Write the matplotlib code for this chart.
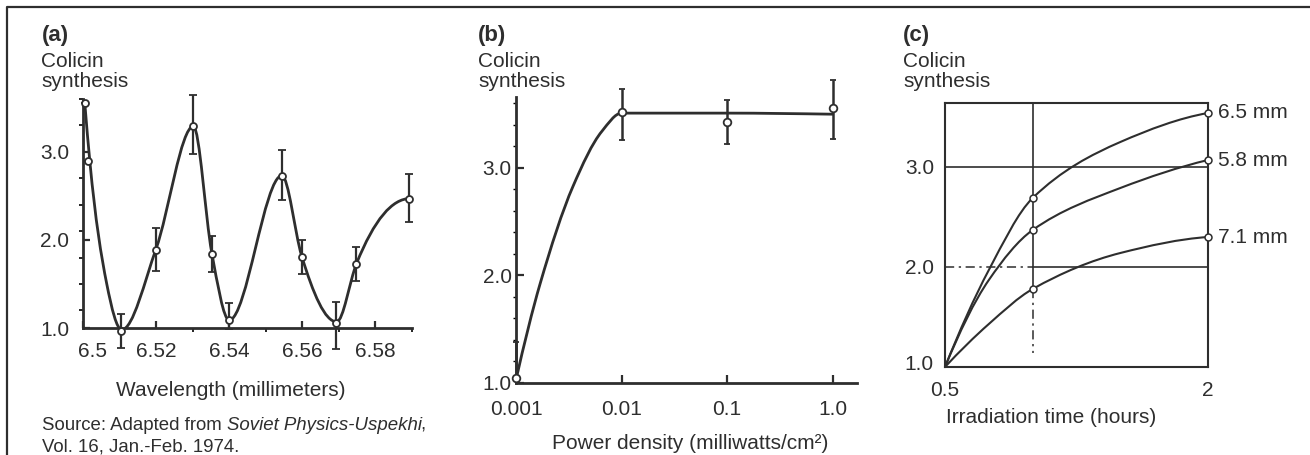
import numpy as np
import matplotlib
matplotlib.use("Agg")
import matplotlib.pyplot as plt
from matplotlib.path import Path
from matplotlib.patches import PathPatch
from matplotlib.lines import Line2D
from matplotlib.ticker import FixedLocator, FixedFormatter, NullFormatter
from matplotlib.transforms import ScaledTranslation

plt.rcParams['font.family'] = ['Liberation Sans', 'DejaVu Sans']

INK = '#2e2e2e'
FS = 15

# ---------------- (a) colicin synthesis vs wavelength ----------------
a_wavelength = [6.5005, 6.5015, 6.5105, 6.5200, 6.5300, 6.5352, 6.5400,
                6.5544, 6.5598, 6.5692, 6.5748, 6.5892]
a_synthesis = [3.55, 2.90, 0.97, 1.88, 3.29, 1.84, 1.09,
               2.73, 1.81, 1.06, 1.73, 2.47]
a_err_low = [0.00, 0.00, 0.20, 0.23, 0.32, 0.20, 0.10,
             0.28, 0.20, 0.30, 0.20, 0.27]
a_err_high = [0.00, 0.00, 0.19, 0.25, 0.36, 0.20, 0.19,
              0.29, 0.19, 0.24, 0.19, 0.28]
# fitted curve: turning points and crossings of the measured response
a_curve_x = [6.5005, 6.5019, 6.5065, 6.5106, 6.5200, 6.5302, 6.5352, 6.5400,
             6.5544, 6.5598, 6.5694, 6.5748, 6.5895]
a_curve_y = [3.55, 2.88, 1.50, 0.98, 1.90, 3.29, 1.86, 1.09,
             2.73, 1.82, 1.07, 1.73, 2.47]
a_ticks = [6.50, 6.52, 6.54, 6.56, 6.58]
a_ticklabels = ['6.5', '6.52', '6.54', '6.56', '6.58']
a_yticks = [1.0, 2.0, 3.0]

# ---------------- (b) colicin synthesis vs power density ----------------
b_power = [0.001, 0.01, 0.1, 1.0]
b_synthesis = [1.05, 3.52, 3.43, 3.56]
b_err_low = [0.00, 0.26, 0.21, 0.29]
b_err_high = [0.33, 0.21, 0.20, 0.26]
b_curve_x = [0.001, 0.0017, 0.00347, 0.0065, 0.01, 0.1, 1.0]
b_curve_y = [1.03, 1.93, 2.83, 3.34, 3.51, 3.51, 3.50]
b_ticks = [0.001, 0.01, 0.1, 1.0]
b_ticklabels = ['0.001', '0.01', '0.1', '1.0']
b_yticks = [1.0, 2.0, 3.0]

# ---------------- (c) colicin synthesis vs irradiation time ----------------
c_marker_time = [1.0, 2.0]
c_65_marks = [2.69, 3.54]
c_58_marks = [2.37, 3.07]
c_71_marks = [1.78, 2.30]
c_curve_time = [0.5, 0.75, 1.0, 1.5, 2.0]
c_65_curve = [1.0, 1.97, 2.69, 3.25, 3.54]
c_58_curve = [1.0, 1.87, 2.37, 2.79, 3.07]
c_71_curve = [1.0, 1.43, 1.78, 2.14, 2.30]
c_series_labels = ['6.5 mm', '5.8 mm', '7.1 mm']
c_ticks = [0.5, 2.0]
c_ticklabels = ['0.5', '2']
c_yticks = [1.0, 2.0, 3.0]


def hermite_slopes(x, y, harmonic):
    """Tangents at the anchors: flat at turning points, limited against overshoot.

    harmonic=True gives the Fritsch-Carlson weighted harmonic mean (gentle,
    good for saturating curves); otherwise the three-point derivative.
    """
    h = np.diff(x)
    d = np.diff(y) / h
    n = len(x)
    m = np.zeros(n)
    for i in range(1, n - 1):
        if d[i - 1] * d[i] <= 0:
            m[i] = 0.0
        elif harmonic:
            w1 = 2 * h[i] + h[i - 1]
            w2 = h[i] + 2 * h[i - 1]
            m[i] = (w1 + w2) / (w1 / d[i - 1] + w2 / d[i])
        else:
            s = (h[i] * d[i - 1] + h[i - 1] * d[i]) / (h[i - 1] + h[i])
            lim = 3 * min(abs(d[i - 1]), abs(d[i]))
            m[i] = np.sign(s) * min(abs(s), lim)

    def end(h0, h1, d0, d1):
        s = ((2 * h0 + h1) * d0 - h0 * d1) / (h0 + h1)
        if np.sign(s) != np.sign(d0):
            return 0.0
        if np.sign(d0) != np.sign(d1) and abs(s) > abs(3 * d0):
            return 3 * d0
        return s

    if n > 2:
        m[0] = end(h[0], h[1], d[0], d[1])
        m[-1] = end(h[-1], h[-2], d[-1], d[-2])
    else:
        m[:] = d[0]
    return m


def smooth_path(xs, ys, harmonic):
    """Hermite segments between anchors, written as cubic Bezier curves."""
    x = np.asarray(xs, float)
    y = np.asarray(ys, float)
    m = hermite_slopes(x, y, harmonic)
    verts = [(x[0], y[0])]
    codes = [Path.MOVETO]
    for i in range(len(x) - 1):
        dx = (x[i + 1] - x[i]) / 3.0
        verts += [(x[i] + dx, y[i] + m[i] * dx),
                  (x[i + 1] - dx, y[i + 1] - m[i + 1] * dx),
                  (x[i + 1], y[i + 1])]
        codes += [Path.CURVE4] * 3
    return np.array(verts), codes


def add_curve(ax, xs, ys, lw, logx=False, harmonic=True):
    xs = np.log10(xs) if logx else np.asarray(xs, float)
    verts, codes = smooth_path(xs, ys, harmonic)
    if logx:
        verts[:, 0] = 10 ** verts[:, 0]
    ax.add_patch(PathPatch(Path(verts, codes), fill=False, edgecolor=INK,
                           lw=lw, capstyle='round', joinstyle='round', zorder=3))


W, H = 1310, 455
fig = plt.figure(figsize=(W / 100, H / 100), dpi=100)


def px_axes(left, top, right, bottom):
    return fig.add_axes([left / W, 1 - bottom / H, (right - left) / W, (bottom - top) / H])


def fig_text(x, y, s, **kw):
    kw.setdefault('color', INK)
    kw.setdefault('fontsize', FS)
    kw.setdefault('va', 'baseline')
    return fig.text(x / W, 1 - y / H, s, **kw)


def style_open_axes(ax, lw):
    for side in ('top', 'right'):
        ax.spines[side].set_visible(False)
    for side in ('left', 'bottom'):
        ax.spines[side].set_linewidth(lw)
        ax.spines[side].set_color(INK)
    ax.tick_params(colors=INK, labelcolor=INK, labelsize=FS, direction='in')
    ax.patch.set_alpha(0)


# ---- panel (a)
ax1 = px_axes(83, 99, 412, 328)
ax1.set_xlim(6.5, 6.59)
ax1.set_ylim(1.0, 3.6)
style_open_axes(ax1, 2.0)
add_curve(ax1, a_curve_x, a_curve_y, 2.0, harmonic=False)
ax1.errorbar(a_wavelength, a_synthesis, yerr=[a_err_low, a_err_high], fmt='o',
             ms=5, mfc='white', mec=INK, mew=1.3, ecolor=INK, elinewidth=1.6,
             capsize=3, capthick=1.6, clip_on=False, zorder=4)
ax1.xaxis.set_major_locator(FixedLocator(a_ticks))
ax1.xaxis.set_major_formatter(FixedFormatter(a_ticklabels))
ax1.xaxis.set_minor_locator(FixedLocator([6.51, 6.53, 6.55, 6.57, 6.59]))
ax1.yaxis.set_major_locator(FixedLocator(a_yticks))
ax1.yaxis.set_major_formatter(FixedFormatter(['%.1f' % v for v in a_yticks]))
ax1.yaxis.set_minor_locator(FixedLocator(np.arange(1.2, 3.6, 0.3)))
ax1.tick_params(axis='both', which='major', length=5, width=1.6)
ax1.tick_params(axis='both', which='minor', length=3, width=1.2)
ax1.tick_params(axis='x', which='major', pad=10)
ax1.tick_params(axis='y', which='major', pad=10)
first = ax1.get_xticklabels()[0]
first.set_transform(first.get_transform() + ScaledTranslation(7 / 72, 0, fig.dpi_scale_trans))

fig_text(42, 41, '(a)', fontweight='bold', fontsize=16)
fig_text(41, 67, 'Colicin')
fig_text(41, 87, 'synthesis')
fig_text(231, 396, 'Wavelength (millimeters)', ha='center')

# source note: roman prefix, italic journal title, trailing comma
SFS = 13.4
src = fig_text(42, 430, 'Source: Adapted from ', fontsize=SFS)
fig.canvas.draw()
bb = src.get_window_extent()
title = fig.text(bb.x1 / W, 1 - 430 / H, 'Soviet Physics-Uspekhi', fontsize=SFS,
                 style='italic', color=INK, va='baseline')
fig.canvas.draw()
bb2 = title.get_window_extent()
fig.text((bb2.x1 - 2) / W, 1 - 430 / H, ',', fontsize=SFS, color=INK, va='baseline')
fig_text(42, 451, 'Vol. 16, Jan.-Feb. 1974.', fontsize=SFS)

# ---- panel (b)
ax2 = px_axes(516, 97, 857, 383)
ax2.set_xscale('log')
ax2.set_xlim(0.001, 1.7)
ax2.set_ylim(1.0, 3.66)
style_open_axes(ax2, 2.0)
add_curve(ax2, b_curve_x, b_curve_y, 2.0, logx=True)
ax2.errorbar(b_power, b_synthesis, yerr=[b_err_low, b_err_high], fmt='o',
             ms=5.5, mfc='white', mec=INK, mew=1.3, ecolor=INK, elinewidth=1.8,
             capsize=2.5, capthick=1.8, clip_on=False, zorder=4)
ax2.xaxis.set_major_locator(FixedLocator(b_ticks))
ax2.xaxis.set_major_formatter(FixedFormatter(b_ticklabels))
ax2.xaxis.set_minor_locator(FixedLocator([]))
ax2.xaxis.set_minor_formatter(NullFormatter())
ax2.yaxis.set_major_locator(FixedLocator(b_yticks))
ax2.yaxis.set_major_formatter(FixedFormatter(['%.1f' % v for v in b_yticks]))
ax2.yaxis.set_minor_locator(FixedLocator(np.arange(1.2, 3.7, 0.2)))
ax2.tick_params(axis='both', which='major', length=6, width=1.6)
ax2.tick_params(axis='y', which='minor', length=2.5, width=1.0)
ax2.tick_params(axis='x', which='major', pad=12)
ax2.tick_params(axis='y', which='major', pad=3)

fig_text(478, 41, '(b)', fontweight='bold', fontsize=16)
fig_text(478, 67, 'Colicin')
fig_text(478, 87, 'synthesis')
fig_text(690, 449, 'Power density (milliwatts/cm\u00b2)', ha='center')

# ---- panel (c)
ax3 = px_axes(945, 103, 1208, 367)
ax3.set_xlim(0.5, 2.0)
ax3.set_ylim(1.0, 3.64)
for side in ax3.spines.values():
    side.set_linewidth(1.5)
    side.set_color(INK)
ax3.tick_params(colors=INK, labelcolor=INK, labelsize=FS, length=0)
ax3.tick_params(axis='x', pad=10)
ax3.tick_params(axis='y', pad=8)
ax3.xaxis.set_major_locator(FixedLocator(c_ticks))
ax3.xaxis.set_major_formatter(FixedFormatter(c_ticklabels))
ax3.yaxis.set_major_locator(FixedLocator(c_yticks))
ax3.yaxis.set_major_formatter(FixedFormatter(['%.1f' % v for v in c_yticks]))
ax3.patch.set_alpha(0)
ylab = ax3.get_yticklabels()[0]
ylab.set_transform(ylab.get_transform() + ScaledTranslation(0, 3 / 72, fig.dpi_scale_trans))

# reference lines
DASHDOT = (0, (6, 3, 1.5, 3))
ax3.axhline(3.0, color=INK, lw=1.2, zorder=1)
ax3.plot([0.5, 1.0], [2.0, 2.0], color=INK, lw=1.1, ls=DASHDOT, zorder=1)
ax3.plot([1.0, 2.0], [2.0, 2.0], color=INK, lw=1.2, zorder=1)
ax3.plot([1.0, 1.0], [3.64, c_71_marks[0]], color=INK, lw=1.2, zorder=1)
ax3.plot([1.0, 1.0], [c_71_marks[0], 1.14], color=INK, lw=1.1, ls=DASHDOT, zorder=1)

for curve, marks, label in zip([c_65_curve, c_58_curve, c_71_curve],
                               [c_65_marks, c_58_marks, c_71_marks],
                               c_series_labels):
    add_curve(ax3, c_curve_time, curve, 1.5)
    ax3.plot(c_marker_time, marks, 'o', ms=5, mfc='white', mec=INK, mew=1.1,
             clip_on=False, zorder=4)
    ax3.annotate(label, (c_marker_time[-1], marks[-1]), xytext=(7, 0),
                 textcoords='offset points', va='center', ha='left',
                 fontsize=FS, color=INK, annotation_clip=False)

fig_text(903, 41, '(c)', fontweight='bold', fontsize=16)
fig_text(903, 67, 'Colicin')
fig_text(903, 87, 'synthesis')
fig_text(946, 423, 'Irradiation time (hours)')

# outer frame (left and top edges)
fig.add_artist(Line2D([7 / W, 7 / W, 1.0], [0.0, 1 - 7 / H, 1 - 7 / H],
                      transform=fig.transFigure, color=INK, lw=1.6))

fig.savefig('out.png', dpi=100)
